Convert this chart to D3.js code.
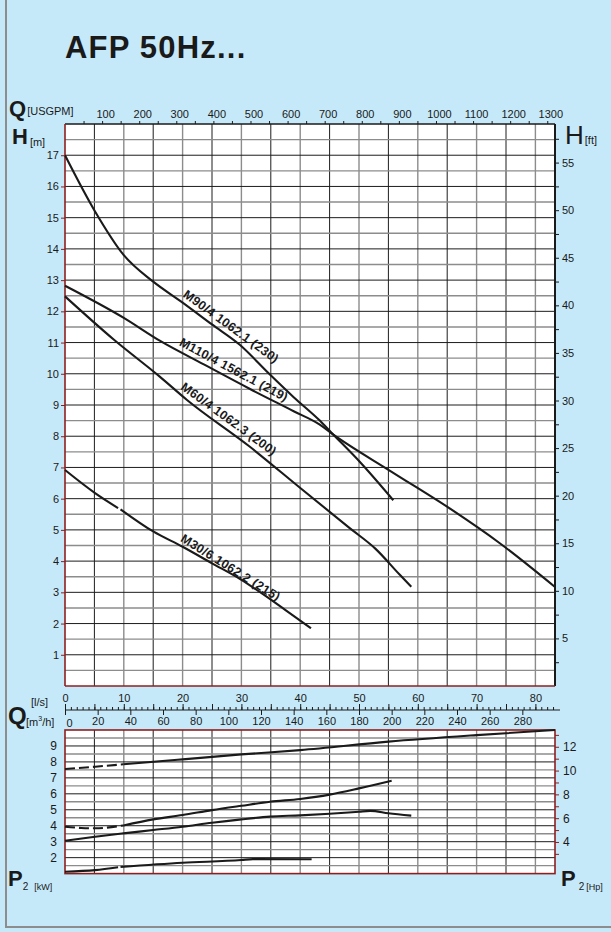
<!DOCTYPE html>
<html>
<head>
<meta charset="utf-8">
<script src="https://cdn.jsdelivr.net/npm/d3@7"></script>
<style>
body{margin:0;background:#c6e9f9;}
svg{display:block;font-family:"Liberation Sans",Arial,Helvetica,sans-serif;}
</style>
</head>
<body>
<svg id="chart" width="611" height="932"></svg>
<script>
// head curves: flow [m3/h] -> head [m]
var qM90 = [0, 18.4, 36, 54, 72, 90, 107, 125, 140, 156, 163, 181, 201];
var hM90 = [17, 15.2, 13.8, 12.95, 12.28, 11.58, 10.93, 10.0, 9.25, 8.5, 8.12, 7.15, 5.95];
var qM110 = [0, 36, 58, 85, 113, 140, 156, 163, 200, 236, 266, 300];
var hM110 = [12.82, 11.79, 11.06, 10.3, 9.52, 8.8, 8.37, 8.1, 6.86, 5.67, 4.58, 3.17];
var qM60 = [0, 30, 58, 74.5, 113, 145, 174.5, 190, 205, 212];
var hM60 = [12.48, 11.09, 9.91, 9.17, 7.67, 6.3, 5.05, 4.4, 3.56, 3.18];
var qM30 = [0, 18.4, 32.5, 34, 54, 72, 90, 108, 119, 135, 150.6];
var hM30 = [6.92, 6.18, 5.7, 5.66, 4.95, 4.46, 3.93, 3.4, 3.02, 2.43, 1.85];

// power curves: flow [m3/h] -> P2 [kW]
var qP110 = [0, 18.4, 35.7, 72, 108, 144, 198, 252, 300];
var pP110 = [7.55, 7.7, 7.85, 8.16, 8.47, 8.74, 9.27, 9.68, 10.0];
var qP90 = [0, 10, 18.4, 35.7, 54, 72, 90, 108, 125.5, 144, 162, 180, 200];
var pP90 = [3.94, 3.86, 3.84, 4.02, 4.4, 4.67, 4.98, 5.25, 5.5, 5.68, 5.95, 6.34, 6.82];
var qP60 = [0, 18.4, 35.7, 54, 72, 90, 108, 125.5, 144, 162, 180, 187, 198, 212];
var pP60 = [3.06, 3.31, 3.52, 3.73, 3.94, 4.19, 4.4, 4.57, 4.65, 4.75, 4.88, 4.93, 4.78, 4.63];
var qP30 = [0, 18.4, 32.5, 34, 72, 108, 115, 151];
var pP30 = [1.12, 1.22, 1.4, 1.42, 1.68, 1.85, 1.91, 1.9];

var labelM90 = "M90/4 1062.1 (230)";
var labelM110 = "M110/4 1562.1 (219)";
var labelM60 = "M60/4 1062.3 (200)";
var labelM30 = "M30/6 1062.2 (215)";

var gpmTicks = d3.range(100, 1301, 100);
var lsTicks = d3.range(0, 81, 10);
var m3hTicks = d3.range(0, 281, 20);
var hTicks = d3.range(1, 18);
var ftTicks = d3.range(5, 56, 5);
var kwTicks = d3.range(2, 10);
var hpTicks = d3.range(4, 13, 2);

var svg = d3.select("#chart");
var L = 65, R = 555;
var x = d3.scaleLinear().domain([0, 300]).range([L, R]);
var yH = d3.scaleLinear().domain([0, 18]).range([686, 124]);
var yP = d3.scaleLinear().domain([1, 10]).range([873.6, 730]);
var xLs = d3.scaleLinear().domain([0, 300 / 3.6]).range([L, R]);
var xGpm = d3.scaleLinear().domain([0, 300 * 4.40287]).range([L, R]);
var yFt = d3.scaleLinear().domain([0, 18 / 0.3048]).range([686, 124]);
var yHp = d3.scaleLinear().domain([1 / 0.7457, 10 / 0.7457]).range([873.6, 730]);

var red = "#8e1f1f";

// page frame
svg.append("line").attr("x1", 6).attr("x2", 6).attr("y1", 0).attr("y2", 928).attr("stroke", "#8d8d8d").attr("stroke-width", 2);
svg.append("line").attr("x1", 6).attr("x2", 611).attr("y1", 927).attr("y2", 927).attr("stroke", "#8d8d8d").attr("stroke-width", 2);

svg.append("text").attr("x", 65).attr("y", 58).attr("font-size", 31).attr("font-weight", "bold")
    .attr("letter-spacing", 1.2).attr("fill", "#1a1a1a").text("AFP 50Hz...");

function grid(g, yScale, y0, y1) {
    g.append("rect").attr("x", L).attr("y", yScale(y1)).attr("width", R - L).attr("height", yScale(y0) - yScale(y1)).attr("fill", "#fff");
    d3.range(1, 17).forEach(function(i){
        g.append("line").attr("x1", x(i * 18)).attr("x2", x(i * 18))
            .attr("y1", yScale(y0)).attr("y2", yScale(y1))
            .attr("stroke", i % 2 ? "#1c1c1c" : "#8c8c8c").attr("stroke-width", i % 2 ? 1 : 1.4);
    });
    d3.range(y0 + 0.5, y1, 0.5).forEach(function(v){
        var major = Math.abs(v - Math.round(v)) < 0.01;
        g.append("line").attr("x1", L).attr("x2", R).attr("y1", yScale(v)).attr("y2", yScale(v))
            .attr("stroke", major ? "#1c1c1c" : "#8c8c8c").attr("stroke-width", major ? 1 : 1.4);
    });
}

var gH = svg.append("g");
grid(gH, yH, 0, 18);
var gPw = svg.append("g");
grid(gPw, yP, 1, 10);

// frames
gH.append("line").attr("x1", L).attr("x2", R).attr("y1", yH(18)).attr("y2", yH(18)).attr("stroke", "#1a1a1a").attr("stroke-width", 1.5);
gH.append("line").attr("x1", R).attr("x2", R).attr("y1", yH(18)).attr("y2", yH(0)).attr("stroke", "#1a1a1a").attr("stroke-width", 2);
gH.append("line").attr("x1", L).attr("x2", L).attr("y1", yH(18)).attr("y2", yH(0)).attr("stroke", red).attr("stroke-width", 1.6);
gH.append("line").attr("x1", L).attr("x2", R).attr("y1", yH(0)).attr("y2", yH(0)).attr("stroke", red).attr("stroke-width", 1.6);
gPw.append("rect").attr("x", L).attr("y", yP(10)).attr("width", R - L).attr("height", yP(1) - yP(10))
    .attr("fill", "none").attr("stroke", red).attr("stroke-width", 1.6);

// curves
var lineH = d3.line().x(function(d){ return x(d[0]); }).y(function(d){ return yH(d[1]); }).curve(d3.curveMonotoneX);
var lineP = d3.line().x(function(d){ return x(d[0]); }).y(function(d){ return yP(d[1]); }).curve(d3.curveMonotoneX);

function pts(q, v) { return q.map(function(d, i){ return [d, v[i]]; }); }

function draw(g, gen, q, v, dashTo, gapAt) {
    var p = pts(q, v);
    if (gapAt) {
        [p.slice(0, gapAt), p.slice(gapAt)].forEach(function(s){
            g.append("path").attr("d", gen(s)).attr("fill", "none").attr("stroke", "#1a1a1a").attr("stroke-width", 2.1);
        });
        return;
    }
    if (dashTo) {
        var k = q.indexOf(dashTo);
        g.append("path").attr("d", gen(p.slice(0, k + 1))).attr("fill", "none").attr("stroke", "#1a1a1a")
            .attr("stroke-width", 2.1).attr("stroke-dasharray", "10,4");
        p = p.slice(k);
    }
    g.append("path").attr("d", gen(p)).attr("fill", "none").attr("stroke", "#1a1a1a").attr("stroke-width", 2.1);
}

draw(gH, lineH, qM90, hM90);
draw(gH, lineH, qM110, hM110);
draw(gH, lineH, qM60, hM60);
draw(gH, lineH, qM30, hM30, null, 3);

draw(gPw, lineP, qP110, pP110, 35.7);
draw(gPw, lineP, qP90, pP90, 35.7);
draw(gPw, lineP, qP60, pP60);
draw(gPw, lineP, qP30, pP30, null, 3);

// curve labels, anchored on the line at flow q0
function curveLabel(q, h, q0, angle, off, txt) {
    var f = d3.scaleLinear().domain(q).range(h);
    gH.append("text").attr("transform", "translate(" + x(q0) + "," + yH(f(q0)) + ") rotate(" + angle + ") translate(0," + off + ")")
        .attr("font-size", 12.5).attr("font-weight", "bold").attr("letter-spacing", 0.3).attr("fill", "#1a1a1a").text(txt);
}
curveLabel(qM90, hM90, 70, 36, -5, labelM90);
curveLabel(qM110, hM110, 68, 28, -5, labelM110);
curveLabel(qM60, hM60, 69, 36, -4, labelM60);
curveLabel(qM30, hM30, 69, 32, -4, labelM30);

function styleAxis(g, size) {
    g.select(".domain").remove();
    g.selectAll("text").attr("font-size", size || 11).attr("fill", "#1a1a1a").attr("font-family", "Liberation Sans, Arial, sans-serif");
    g.selectAll("line").attr("stroke", "#1a1a1a");
}

// top USGPM axis
var gTop = svg.append("g").attr("transform", "translate(0," + yH(18) + ")")
    .call(d3.axisTop(xGpm).tickValues(d3.range(50, 1301, 50)).tickSize(3).tickPadding(3)
        .tickFormat(function(d){ return gpmTicks.indexOf(d) >= 0 ? d : ""; }));
styleAxis(gTop);
gTop.selectAll("text").attr("dx", 3);

// left H [m]
var gLeft = svg.append("g").attr("transform", "translate(" + L + ",0)")
    .call(d3.axisLeft(yH).tickValues(hTicks).tickSize(4).tickPadding(2));
styleAxis(gLeft);
gLeft.selectAll("line").attr("stroke", red);

// right H [ft]
var gRight = svg.append("g").attr("transform", "translate(" + R + ",0)")
    .call(d3.axisRight(yFt).tickValues(d3.range(2.5, 58, 2.5)).tickSize(4).tickPadding(3)
        .tickFormat(function(d){ return ftTicks.indexOf(d) >= 0 ? d : ""; }));
styleAxis(gRight);

// middle flow axes
var midY = 710;
svg.append("line").attr("x1", L).attr("x2", 560).attr("y1", midY).attr("y2", midY).attr("stroke", "#1a1a1a").attr("stroke-width", 1.2);
var gLsMinor = svg.append("g").attr("transform", "translate(0," + midY + ")")
    .call(d3.axisTop(xLs).tickValues(d3.range(0, 84, 1)).tickSize(3).tickFormat(""));
styleAxis(gLsMinor);
var gLs = svg.append("g").attr("transform", "translate(0," + midY + ")")
    .call(d3.axisTop(xLs).tickValues(d3.range(0, 84, 5)).tickSize(6).tickPadding(2)
        .tickFormat(function(d){ return lsTicks.indexOf(d) >= 0 ? d : ""; }));
styleAxis(gLs);
var gM3 = svg.append("g").attr("transform", "translate(0," + midY + ")")
    .call(d3.axisBottom(x).tickValues(m3hTicks).tickSize(5).tickPadding(2));
styleAxis(gM3);
gM3.selectAll("text").filter(function(d){ return d === 0; }).attr("dx", 4).attr("dy", "0.9em");

// lower left kW
var gKw = svg.append("g").attr("transform", "translate(" + L + ",0)")
    .call(d3.axisLeft(yP).tickValues(kwTicks).tickSize(0).tickPadding(8));
styleAxis(gKw, 12);

// lower right Hp
var gHp = svg.append("g").attr("transform", "translate(" + R + ",0)")
    .call(d3.axisRight(yHp).tickValues(d3.range(3, 14, 1)).tickSize(4).tickPadding(4)
        .tickFormat(function(d){ return hpTicks.indexOf(d) >= 0 ? d : ""; }));
styleAxis(gHp, 12);
gHp.selectAll("line").attr("stroke", red);

// unit labels
function unit(xp, yp, big, small, dx, dy, bold, bsize) {
    var t = svg.append("text").attr("x", xp).attr("y", yp).attr("fill", "#1a1a1a");
    t.append("tspan").attr("font-size", bsize || 22).attr("font-weight", bold === false ? "normal" : "bold").text(big);
    if (small) t.append("tspan").attr("font-size", 11).attr("dx", dx || 1).attr("dy", dy || 0).text(small);
    return t;
}
unit(9, 116, "Q", "[USGPM]", 1, -1);
unit(12, 144, "H", "[m]", 2, 2);
unit(565, 144, "H", "[ft]", 1, 0, false, 26);
unit(8, 724, "Q", null, null, null, true, 24);
svg.append("text").attr("x", 31).attr("y", 706).attr("font-size", 11).attr("fill", "#1a1a1a").text("[l/s]");
var m3 = svg.append("text").attr("x", 26).attr("y", 726).attr("font-size", 11).attr("fill", "#1a1a1a");
m3.append("tspan").text("[m");
m3.append("tspan").attr("font-size", 7).attr("dy", -5).text("3");
m3.append("tspan").attr("dy", 5).text("/h]");
var pk = unit(8, 886, "P", null);
pk.append("tspan").attr("font-size", 10).attr("dy", 4).text("2");
pk.append("tspan").attr("font-size", 9).attr("dx", 6).text("[kW]");
var ph = unit(561, 886, "P", null);
ph.append("tspan").attr("font-size", 10).attr("dx", 3).attr("dy", 4).text("2");
ph.append("tspan").attr("font-size", 9).attr("dx", 2).text("[Hp]");
</script>
</body>
</html>
